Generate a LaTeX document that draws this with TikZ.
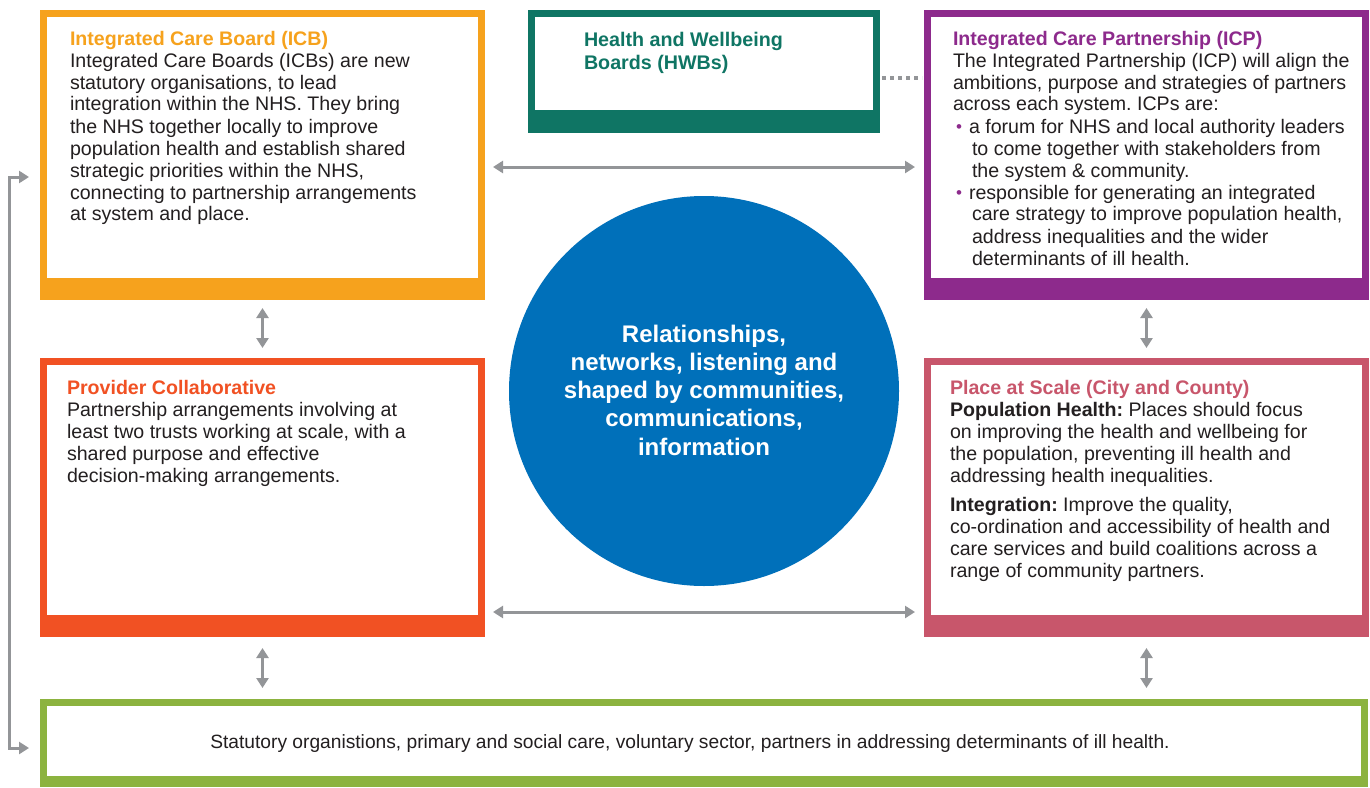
\documentclass[tikz,border=0pt]{standalone}
\usepackage{fontspec}
\setmainfont{Liberation Sans}
\usetikzlibrary{arrows.meta}
\frenchspacing

\definecolor{icbc}{HTML}{F6A21D}
\definecolor{hwbc}{HTML}{0F7564}
\definecolor{icpc}{HTML}{8D2A8C}
\definecolor{provc}{HTML}{F15123}
\definecolor{placec}{HTML}{C8566B}
\definecolor{basec}{HTML}{8CB33F}
\definecolor{hubc}{HTML}{0070BA}
\definecolor{linkgray}{HTML}{939598}
\definecolor{ink}{HTML}{231F20}

% bullet and hanging indent for the ICP list
\newcommand{\bul}{\hspace*{3pt}\makebox[13pt][l]{\textcolor{icpc}{\raisebox{0.5pt}{\fontsize{17}{17}\selectfont •}}}}
\newcommand{\cont}{\hspace*{19pt}}

\begin{document}
\begin{tikzpicture}[x=1pt,y=-1pt,
  panel/.style={anchor=north west, inner sep=0pt, outer sep=0pt, fill=#1, draw=none},
  link/.style={draw=linkgray, line width=3pt,
    {Triangle[length=10pt,width=12pt]}-{Triangle[length=10pt,width=12pt]}},
  body/.style={anchor=base west, inner sep=0pt, outer sep=0pt, text=ink,
    font=\fontsize{19.6}{22}\selectfont},
  dotline/.style={draw=linkgray, line width=4pt, dash pattern=on 4pt off 4pt},
]
\useasboundingbox (0,0) rectangle (1370,787);
\fill[white] (0,0) rectangle (1370,787);

% framed panels: coloured block with a white window and a thick bottom bar
\node[panel=icbc, minimum width=445pt, minimum height=290pt] (icb) at (40,10) {};
\fill[white] ([shift={(7,7)}]icb.north west) rectangle ([shift={(-7,-22)}]icb.south east);

\node[panel=hwbc, minimum width=352pt, minimum height=123pt] (hwb) at (528,10) {};
\fill[white] ([shift={(7,7)}]hwb.north west) rectangle ([shift={(-7,-23)}]hwb.south east);

\node[panel=icpc, minimum width=445pt, minimum height=290pt] (icp) at (924,10) {};
\fill[white] ([shift={(7,7)}]icp.north west) rectangle ([shift={(-7,-22)}]icp.south east);

\node[panel=provc, minimum width=445pt, minimum height=279pt] (prov) at (40,358) {};
\fill[white] ([shift={(7,7)}]prov.north west) rectangle ([shift={(-7,-22)}]prov.south east);

\node[panel=placec, minimum width=445pt, minimum height=279pt] (place) at (924,358) {};
\fill[white] ([shift={(7,7)}]place.north west) rectangle ([shift={(-7,-22)}]place.south east);

\node[panel=basec, minimum width=1328pt, minimum height=88pt] (base) at (40,699) {};
\fill[white] ([shift={(7,7)}]base.north west) rectangle ([shift={(-7,-11)}]base.south east);

% central circle
\node[circle, fill=hubc, minimum size=390pt, inner sep=0pt] (hub) at (704,391) {};
\node[anchor=base, inner sep=0pt, text=white] (hubtxt) at (704,342)
  {\parbox[t]{380pt}{\leavevmode\centering\bfseries\fontsize{24}{28.3}\selectfont
   Relationships,\\ networks, listening and\\ shaped by communities,\\ communications,\\ information}};

% panel texts
\node[body] (icbtxt) at (70,45) {\parbox[t]{440pt}{\leavevmode\raggedright
  \textcolor{icbc}{\bfseries Integrated Care Board (ICB)}\\
  Integrated Care Boards (ICBs) are new\\
  statutory organisations, to lead\\
  integration within the NHS. They bring\\
  the NHS together locally to improve\\
  population health and establish shared\\
  strategic priorities within the NHS,\\
  connecting to partnership arrangements\\
  at system and place.}};

\node[body, font=\fontsize{19.7}{23.5}\selectfont] (hwbtxt) at (584,46)
  {\parbox[t]{300pt}{\leavevmode\raggedright\textcolor{hwbc}{\bfseries Health and Wellbeing}\\
   \textcolor{hwbc}{\bfseries Boards (HWBs)}}};

\node[body] (icptxt) at (953,45) {\parbox[t]{440pt}{\leavevmode\raggedright
  \textcolor{icpc}{\bfseries Integrated Care Partnership (ICP)}\\
  The Integrated Partnership (ICP) will align the\\
  ambitions, purpose and strategies of partners\\
  across each system. ICPs are:\\
  \bul a forum for NHS and local authority leaders\\
  \cont to come together with stakeholders from\\
  \cont the system \& community.\\
  \bul responsible for generating an integrated\\
  \cont care strategy to improve population health,\\
  \cont address inequalities and the wider\\
  \cont determinants of ill health.}};

\node[body] (provtxt) at (67,394) {\parbox[t]{440pt}{\leavevmode\raggedright
  \textcolor{provc}{\bfseries Provider Collaborative}\\
  Partnership arrangements involving at\\
  least two trusts working at scale, with a\\
  shared purpose and effective\\
  decision-making arrangements.}};

\node[body] (placetxt) at (950,394) {\parbox[t]{440pt}{\leavevmode\raggedright
  \textcolor{placec}{\bfseries Place at Scale (City and County)}\\
  \textbf{Population Health:} Places should focus\\
  on improving the health and wellbeing for\\
  the population, preventing ill health and\\
  addressing health inequalities.\\[7pt]
  \textbf{Integration:} Improve the quality,\\
  co-ordination and accessibility of health and\\
  care services and build coalitions across a\\
  range of community partners.}};

\node[anchor=base, inner sep=0pt, text=ink, font=\fontsize{19.2}{22}\selectfont] (basetxt) at (690,748)
  {Statutory organistions, primary and social care, voluntary sector, partners in addressing determinants of ill health.};

% connectors
\coordinate (r1) at (0,167);
\coordinate (r2) at (0,612);
\coordinate (r3) at (0,177);
\coordinate (r4) at (0,748);
\coordinate (r5) at (0,78);

\draw[link, shorten <=8pt, shorten >=9pt] (icb.east |- r1) -- (icp.west |- r1);
\draw[link, shorten <=8pt, shorten >=9pt] (prov.east |- r2) -- (place.west |- r2);

\draw[link, shorten <=8pt, shorten >=10pt] (icb.south) -- (prov.north);
\draw[link, shorten <=8pt, shorten >=10pt] (icp.south) -- (place.north);
\draw[link, shorten <=11pt, shorten >=11pt] (prov.south) -- (prov.south |- base.north);
\draw[link, shorten <=11pt, shorten >=11pt] (place.south) -- (place.south |- base.north);

\draw[link, shorten <=11pt, shorten >=11pt] (icb.west |- r3) -- ++(-31,0) |- (base.west |- r4);

\draw[dotline, shorten <=2pt, shorten >=2pt] (hwb.east |- r5) -- (icp.west |- r5);
\end{tikzpicture}
\end{document}
